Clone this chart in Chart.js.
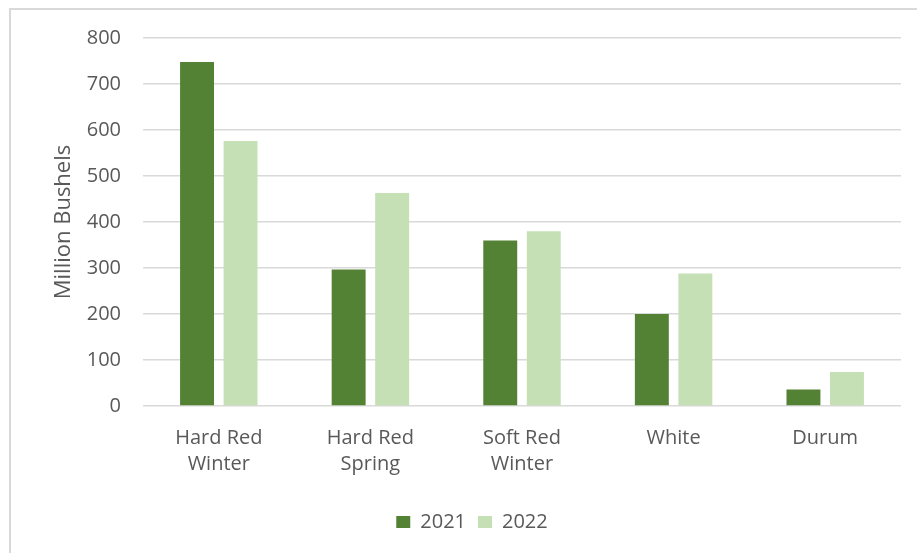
<!DOCTYPE html>
<html>
<head>
<meta charset="utf-8">
<script src="https://cdn.jsdelivr.net/npm/chart.js@4"></script>
<style>
  body { margin: 0; background: #fff; }
  #wrap { position: relative; width: 917px; height: 553px; overflow: hidden; }
  #frame { position: absolute; left: 9px; top: 8px; width: 1000px; height: 1000px; border: 2px solid #d9d9d9; box-sizing: border-box; }
  #chart { position: absolute; left: 0; top: 0; }
</style>
</head>
<body>
<div id="wrap">
  <div id="frame"></div>
  <canvas id="chart" width="917" height="553"></canvas>
</div>
<script>
// wheat classes
let categories = [["Hard Red", "Winter"], ["Hard Red", "Spring"], ["Soft Red", "Winter"], "White", "Durum"];
let values2021 = [748, 297, 360, 200, 36];
let values2022 = [576, 463, 380, 288, 74];
let yTicks = [0, 100, 200, 300, 400, 500, 600, 700, 800];

let grey = "#595959";
let fontName = "'Open Sans', sans-serif";

let ctx = document.getElementById("chart");
new Chart(ctx, {
  type: "bar",
  data: {
    labels: categories,
    datasets: [
      { label: "2021", data: values2021, backgroundColor: "#548235" },
      { label: "2022", data: values2022, backgroundColor: "#c5e0b4" }
    ]
  },
  options: {
    responsive: false,
    animation: false,
    categoryPercentage: 0.574,
    barPercentage: 0.78,
    // left padding only pushes the legend centre right, the y axis width makes up for it
    layout: { padding: { left: 43, right: 16, top: 38, bottom: 11 } },
    plugins: {
      tooltip: { enabled: false },
      legend: {
        position: "bottom",
        labels: {
          boxWidth: 14,
          boxHeight: 12,
          padding: 12,
          color: grey,
          font: { family: fontName, size: 20 }
        }
      }
    },
    scales: {
      x: {
        grid: { display: false },
        border: { display: false },
        ticks: {
          color: grey,
          padding: 11,
          maxRotation: 0,
          font: { family: fontName, size: 20, lineHeight: 1.3 }
        },
        afterFit: function (scale) { scale.height = 94; }
      },
      y: {
        min: 0,
        max: 800,
        afterBuildTicks: function (scale) {
          scale.ticks = yTicks.map(function (v) { return { value: v }; });
        },
        grid: { color: "#d9d9d9", lineWidth: 1.5, drawTicks: false },
        border: { display: false },
        ticks: {
          color: grey,
          padding: 22,
          font: { family: fontName, size: 20 }
        },
        title: {
          display: true,
          text: "Million Bushels",
          color: grey,
          padding: { top: 8, bottom: 0 },
          font: { family: fontName, size: 22 }
        },
        afterFit: function (scale) { scale.width = 100; }
      }
    }
  }
});
</script>
</body>
</html>
